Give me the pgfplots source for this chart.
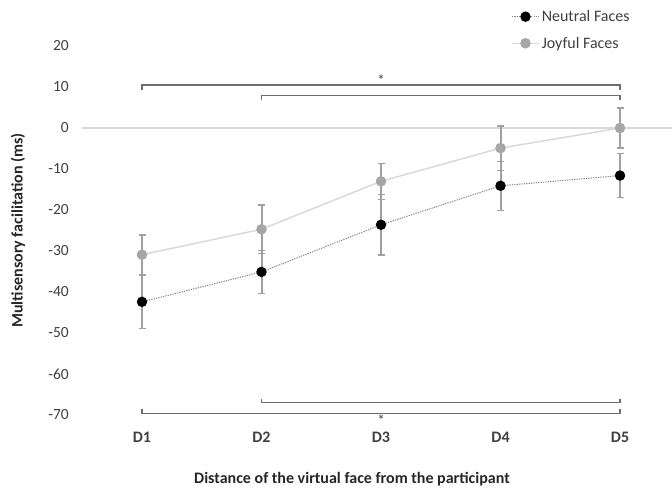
\documentclass[border=0pt]{standalone}
\usepackage{fontspec}
\setmainfont{Carlito}
\usepackage{pgfplots}
\pgfplotsset{compat=1.18}
\definecolor{txt}{HTML}{404040}
\definecolor{ebar}{HTML}{A0A0A0}
\definecolor{joy}{HTML}{A6A6A6}
\definecolor{joyline}{HTML}{D9D9D9}
\definecolor{brk}{HTML}{6E6E6E}
\definecolor{neutline}{HTML}{7F7F7F}
\begin{document}
\begin{tikzpicture}
\useasboundingbox (0,0) rectangle (672pt,496pt);
\begin{axis}[
  at={(82.25pt,81pt)}, anchor=south west,
  scale only axis, width=589.75pt, height=369pt,
  xmin=0.5, xmax=5.435, ymin=-70, ymax=20,
  clip=false,
  axis line style={draw=none}, tick style={draw=none},
  ytick={-70,-60,...,20},
  xtick={1,2,3,4,5}, xticklabels={D1,D2,D3,D4,D5},
  /pgf/number format/assume math mode=true,
  yticklabel style={font=\fontsize{15.5}{18}\selectfont, text=txt, xshift=-10pt},
  xticklabel style={font=\fontsize{16}{19}\selectfont\bfseries, text=txt, yshift=-13.5pt},
  xlabel={Distance of the virtual face from the participant},
  ylabel={Multisensory facilitation (ms)},
  xlabel style={at={(axis description cs:0.4574,-0.1734)}, anchor=center, font=\fontsize{16}{19}\selectfont\bfseries, text=black!85},
  ylabel style={at={(axis description cs:-0.109,0.5)}, anchor=center, font=\fontsize{16}{19}\selectfont\bfseries, text=black!85},
  legend style={at={(axis description cs:0.722,1.108)}, anchor=north west, draw=none, fill=none,
    font=\fontsize{16}{19}\selectfont, text=txt, row sep=10pt},
  legend cell align=left,
  legend image code/.code={\draw[mark repeat=2,mark phase=2,#1] plot coordinates {(0pt,0pt) (13.5pt,0pt) (27pt,0pt)};},
  every error bar/.append style={draw=ebar, line width=2pt, solid},
]
\addplot[forget plot, joyline, line width=1.5pt] coordinates {(0.5,0) (5.435,0)};
\addplot[neutline, line width=1pt, dash pattern=on 1.2pt off 1.2pt, mark=*, mark size=4.7pt,
  mark options={solid, fill=black, draw=black},
  error bars/.cd, y dir=both, y explicit, error mark=-,
  error mark options={rotate=90, draw=ebar, mark size=3.5pt, line width=1.3pt, solid}]
  coordinates {(1,-42.4) +- (0,6.5) (2,-35.1) +- (0,5.2) (3,-23.6) +- (0,7.4) (4,-14.1) +- (0,6.0) (5,-11.6) +- (0,5.4)};
\addlegendentry{Neutral Faces}
\addplot[joyline, line width=1.5pt, mark=*, mark size=4.5pt,
  mark options={fill=joy, draw=joy},
  error bars/.cd, y dir=both, y explicit, error mark=-,
  error mark options={rotate=90, draw=ebar, mark size=3.5pt, line width=1.3pt}]
  coordinates {(1,-30.9) +- (0,4.8) (2,-24.7) +- (0,5.9) (3,-13.0) +- (0,4.4) (4,-4.9) +- (0,5.4) (5,0.0) +- (0,4.9)};
\addlegendentry{Joyful Faces}
\draw[brk, line width=1.2pt] (axis cs:1,9.3) |- (axis cs:5,10.5) -- (axis cs:5,9.3);
\draw[brk, line width=1.2pt] (axis cs:2,6.8) |- (axis cs:5,8.0) -- (axis cs:5,6.8);
\node[font=\fontsize{15}{16}\selectfont, text=txt, inner sep=0pt] at (axis cs:3,11.7) {*};
\draw[brk, line width=1.2pt] (axis cs:2,-66.0) |- (axis cs:5,-67.0) -- (axis cs:5,-66.0);
\draw[brk, line width=1.2pt] (axis cs:1,-68.5) |- (axis cs:5,-69.6) -- (axis cs:5,-68.5);
\node[font=\fontsize{15}{16}\selectfont, text=txt, inner sep=0pt] at (axis cs:3,-71.3) {*};
\end{axis}
\end{tikzpicture}
\end{document}
